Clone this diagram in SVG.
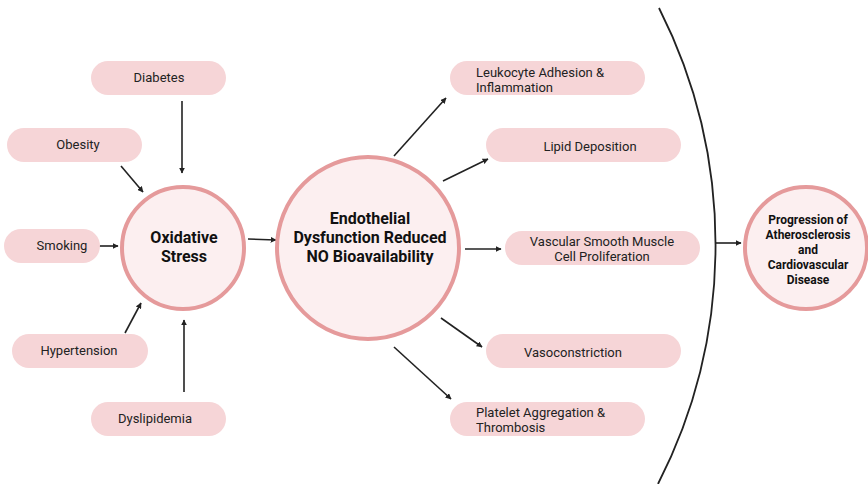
<svg xmlns="http://www.w3.org/2000/svg" width="868" height="484" viewBox="0 0 868 484">
<defs>
<style>
.pill{fill:#F6D5D7;}
.circ{fill:#FCEFF0;stroke:#E59A9B;stroke-width:4;}
.t{font-family:Roboto,"Liberation Sans",sans-serif;font-size:13px;fill:#222;}
.b{font-family:Roboto,"Liberation Sans",sans-serif;font-weight:bold;fill:#111;text-anchor:middle;}
.c{text-anchor:middle;}
.ln{stroke:#222;stroke-width:1.6;fill:none;marker-end:url(#ah);}
</style>
<marker id="ah" viewBox="0 0 10 10" refX="9" refY="5" markerWidth="6" markerHeight="6" orient="auto" markerUnits="userSpaceOnUse">
<path d="M0,0 L10,5 L0,10 z" fill="#222"/>
</marker>
</defs>
<rect width="868" height="484" fill="#fff"/>
<g id="connectors">
<line class="ln" x1="182" y1="101" x2="182" y2="173"/>
<line class="ln" x1="121" y1="166" x2="143" y2="192"/>
<line class="ln" x1="96" y1="246" x2="118" y2="246"/>
<line class="ln" x1="125" y1="333" x2="141" y2="303"/>
<line class="ln" x1="184" y1="392" x2="184" y2="320"/>
<line class="ln" x1="248" y1="239" x2="276" y2="240"/>
<line class="ln" x1="394" y1="156" x2="446" y2="98"/>
<line class="ln" x1="443" y1="181" x2="488" y2="159"/>
<line class="ln" x1="465" y1="249" x2="501" y2="249"/>
<line class="ln" x1="441" y1="318" x2="482" y2="347"/>
<line class="ln" x1="394" y1="347" x2="451" y2="399"/>
<path d="M659 8 A525 525 0 0 1 658 484" stroke="#222" stroke-width="1.8" fill="none"/>
<line class="ln" x1="716" y1="243" x2="741" y2="243"/>
</g>
<g id="diabetes"><rect class="pill" x="91" y="61" width="135" height="34" rx="17"/><text class="t c" x="159" y="82">Diabetes</text></g>
<g id="obesity"><rect class="pill" x="7" y="128" width="135" height="34" rx="17"/><text class="t c" x="78" y="149">Obesity</text></g>
<g id="smoking"><rect class="pill" x="4" y="229" width="96" height="34" rx="17"/><text class="t c" x="62" y="250">Smoking</text></g>
<g id="hypertension"><rect class="pill" x="12" y="334" width="136" height="34" rx="17"/><text class="t c" x="79" y="355">Hypertension</text></g>
<g id="dyslipidemia"><rect class="pill" x="91" y="402" width="135" height="34" rx="17"/><text class="t c" x="155" y="423">Dyslipidemia</text></g>
<g id="oxidative"><circle class="circ" cx="183" cy="248" r="61"/><text class="b" font-size="16" x="184" y="243">Oxidative</text><text class="b" font-size="16" x="184" y="262">Stress</text></g>
<g id="endothelial"><circle class="circ" cx="368" cy="248" r="91"/><text class="b" font-size="16" x="370" y="224">Endothelial</text><text class="b" font-size="16" x="370" y="243">Dysfunction Reduced</text><text class="b" font-size="16" x="370" y="262">NO Bioavailability</text></g>
<g id="leukocyte"><rect class="pill" x="450" y="61" width="195" height="34" rx="17"/><text class="t" x="476" y="77">Leukocyte Adhesion &amp;</text><text class="t" x="476" y="92">Inflammation</text></g>
<g id="lipid"><rect class="pill" x="486" y="128" width="195" height="34" rx="17"/><text class="t c" x="590" y="151">Lipid Deposition</text></g>
<g id="vascular"><rect class="pill" x="505" y="231" width="195" height="34" rx="17"/><text class="t c" x="602" y="246">Vascular Smooth Muscle</text><text class="t c" x="602" y="261">Cell Proliferation</text></g>
<g id="vasoconstriction"><rect class="pill" x="486" y="334" width="195" height="34" rx="17"/><text class="t c" x="573" y="357">Vasoconstriction</text></g>
<g id="platelet"><rect class="pill" x="450" y="402" width="195" height="34" rx="17"/><text class="t" x="476" y="417">Platelet Aggregation &amp;</text><text class="t" x="476" y="432">Thrombosis</text></g>
<g id="progression"><circle class="circ" cx="806" cy="248" r="61"/><text class="b" font-size="12" x="808" y="224">Progression of</text><text class="b" font-size="12" x="808" y="239">Atherosclerosis</text><text class="b" font-size="12" x="808" y="254">and</text><text class="b" font-size="12" x="808" y="269">Cardiovascular</text><text class="b" font-size="12" x="808" y="284">Disease</text></g>
</svg>
